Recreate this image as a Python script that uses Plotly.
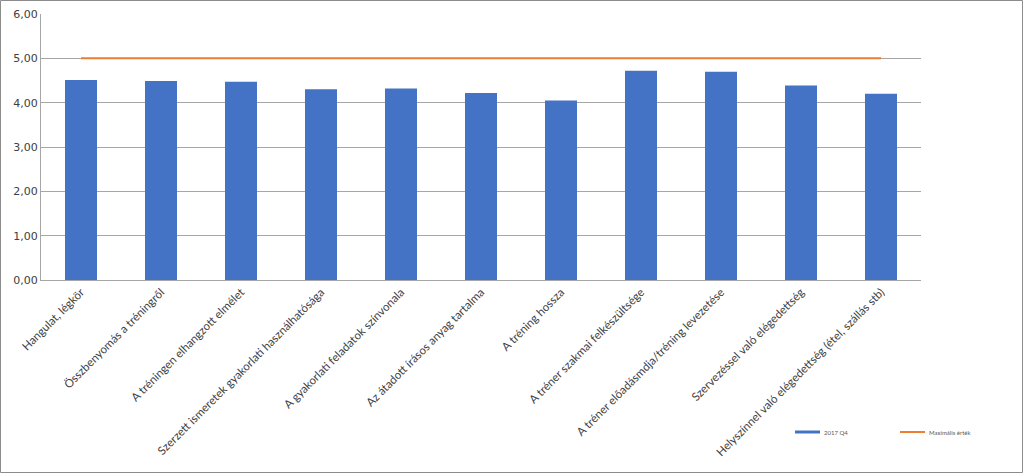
import plotly.graph_objects as go

categories = [
    "Hangulat, légkör",
    "Összbenyomás a tréningről",
    "A tréningen elhangzott elmélet",
    "Szerzett ismeretek gyakorlati használhatósága",
    "A gyakorlati feladatok színvonala",
    "Az átadott írásos anyag tartalma",
    "A tréning hossza",
    "A tréner szakmai felkészültsége",
    "A tréner előadásmdja/tréning levezetése",
    "Szervezéssel való elégedettség",
    "Helyszínnel való elégedettség (étel, szállás stb)",
]
values_2017q4 = [4.51, 4.49, 4.47, 4.30, 4.32, 4.22, 4.05, 4.72, 4.70, 4.39, 4.20]
max_values = [5.00] * len(categories)
y_ticks = [0, 1, 2, 3, 4, 5, 6]
series_names = ["2017 Q4", "Maximális érték"]
series_colors = ["#4472C4", "#ED7D31"]

fig = go.Figure()
fig.add_trace(go.Bar(x=categories, y=values_2017q4, name=series_names[0],
                     marker=dict(color=series_colors[0], line=dict(width=0)),
                     showlegend=False))
fig.add_trace(go.Scatter(x=categories, y=max_values, name=series_names[1],
                         mode="lines", line=dict(color=series_colors[1], width=2),
                         showlegend=False))

L, R, T, B = 41, 102, 14, 193
W, H = 1023, 473
pw, ph = W - L - R, H - T - B


def px_x(px):
    return (px - L) / pw


def px_y(py):
    return (H - B - py) / ph


shapes = [dict(type="rect", xref="paper", yref="paper",
               x0=px_x(0.5), x1=px_x(W - 0.5), y0=px_y(H - 0.5), y1=px_y(0.5),
               line=dict(color="#8C8C8C", width=1), layer="below")]
annotations = []
# manual legend (swatch + label)
leg_x = [795, 900]
leg_y = 432
shapes.append(dict(type="rect", xref="paper", yref="paper",
                   x0=px_x(leg_x[0]), x1=px_x(leg_x[0] + 25),
                   y0=px_y(leg_y + 1.5), y1=px_y(leg_y - 1.5),
                   fillcolor=series_colors[0], line=dict(width=0)))
shapes.append(dict(type="line", xref="paper", yref="paper",
                   x0=px_x(leg_x[1]), x1=px_x(leg_x[1] + 25),
                   y0=px_y(leg_y), y1=px_y(leg_y),
                   line=dict(color=series_colors[1], width=2)))
for lx, name in zip(leg_x, series_names):
    annotations.append(dict(xref="paper", yref="paper", x=px_x(lx + 27), y=px_y(leg_y),
                            text=name, showarrow=False, xanchor="left", yanchor="middle",
                            font=dict(family="Lato", size=6, color="#595959")))

fig.update_layout(
    width=W, height=H,
    margin=dict(l=L, r=R, t=T, b=B, pad=0, autoexpand=False),
    paper_bgcolor="white", plot_bgcolor="white",
    separators=", ",
    bargap=0.6,
    font=dict(family="Lato", color="#404040", size=11),
    showlegend=False,
    xaxis=dict(tickangle=-45, showgrid=False, showline=True,
               linecolor="#A6A6A6", linewidth=1, ticks="", automargin=False,
               tickfont=dict(family="Lato", size=11.5, color="#404040")),
    yaxis=dict(range=[0, 6], tickvals=y_ticks, tickformat=".2f",
               showgrid=True, gridcolor="#A6A6A6", gridwidth=1,
               showline=True, linecolor="#A6A6A6", linewidth=1,
               zeroline=False, ticks="", automargin=False,
               tickfont=dict(family="DejaVu Sans", size=11, color="#404040")),
    shapes=shapes,
    annotations=annotations,
)

fig.write_html("out.html")
